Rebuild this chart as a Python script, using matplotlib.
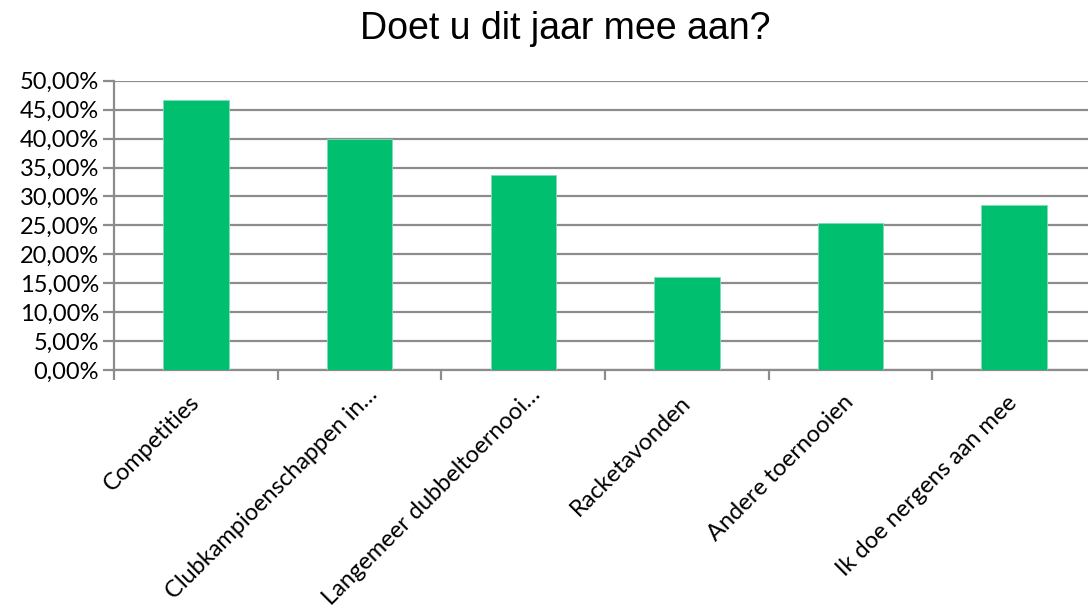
import matplotlib.pyplot as plt
import matplotlib.transforms as mtransforms
import numpy as np
from matplotlib.ticker import FuncFormatter, MultipleLocator

categories = [
    "Competities",
    "Clubkampioenschappen in…",
    "Langemeer dubbeltoernooi…",
    "Racketavonden",
    "Andere toernooien",
    "Ik doe nergens aan mee",
]
percentages = [46.65, 39.9, 33.65, 16.0, 25.35, 28.45]

bar_color = "#00BF6F"
grid_color = "#8C8C8C"

plt.rcParams["font.family"] = ["Lato", "DejaVu Sans"]

fig = plt.figure(figsize=(10.88, 6.13), dpi=100)
ax = fig.add_axes([0.105, 0.3964, 0.9023, 0.4719])

x = np.arange(len(categories))
ax.bar(x, percentages, width=0.4, color=bar_color, edgecolor="#7FDDB5",
       linewidth=0.6, zorder=3)

ax.set_ylim(0, 50)
ax.set_xlim(-0.5, len(categories) - 0.5)
ax.yaxis.set_major_locator(MultipleLocator(5))
ax.yaxis.set_major_formatter(
    FuncFormatter(lambda v, _: f"{v:.2f}%".replace(".", ","))
)
ax.grid(axis="y", color=grid_color, linewidth=1.6, zorder=0)

for side in ["top", "right"]:
    ax.spines[side].set_visible(False)
for side in ["left", "bottom"]:
    ax.spines[side].set_color(grid_color)
    ax.spines[side].set_linewidth(1.6)

ax.tick_params(axis="y", length=8, width=1.6, color=grid_color,
               labelsize=17, pad=3)

# category labels at centers, tick marks at the boundaries
ax.set_xticks(x)
ax.set_xticks(np.arange(-0.5, len(categories)), minor=True)
ax.tick_params(axis="x", which="major", length=0, pad=21, labelsize=17)
ax.tick_params(axis="x", which="minor", length=7, width=1.6, color=grid_color)
labels = ax.set_xticklabels(categories, rotation=45, ha="right",
                            rotation_mode="anchor", va="center")

# truncated labels sit a bit higher/right, like in the original
for lbl in labels:
    if lbl.get_text().endswith("…"):
        shift = mtransforms.ScaledTranslation(14 / 100, 8 / 100,
                                              fig.dpi_scale_trans)
        lbl.set_transform(lbl.get_transform() + shift)

fig.text(565 / 1088, 1 - 29 / 613, "Doet u dit jaar mee aan?",
         ha="center", va="center", fontsize=27, family="Liberation Sans")

fig.savefig("out.png", dpi=100)
